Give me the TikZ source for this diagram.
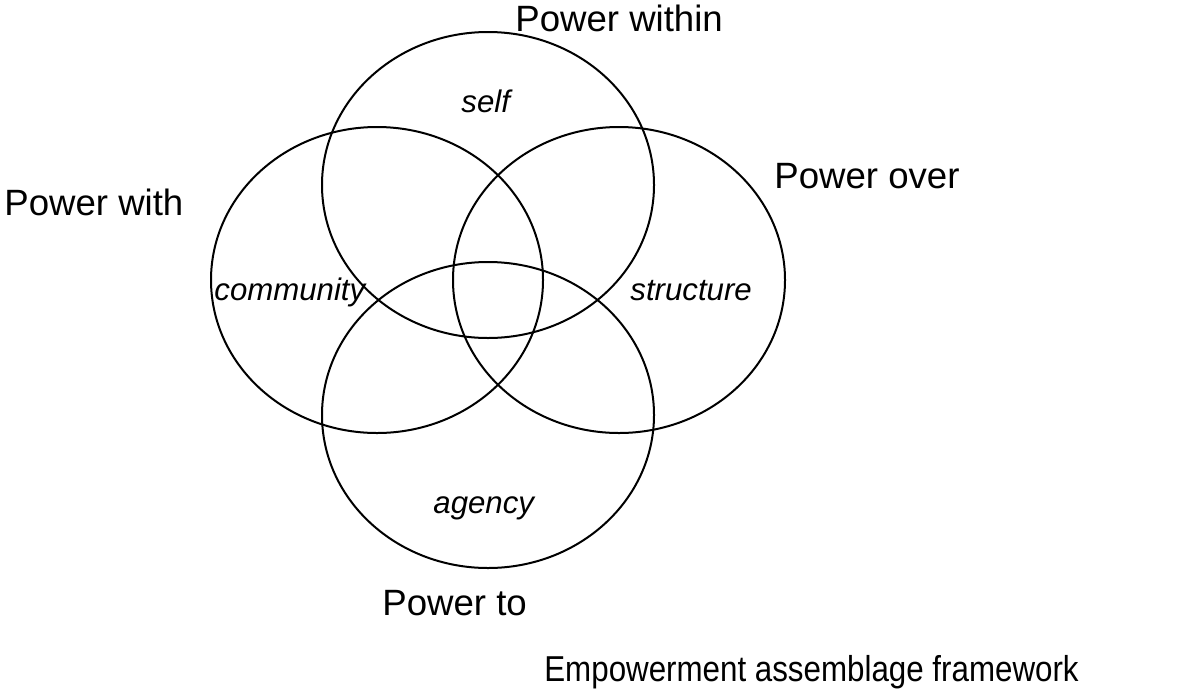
\documentclass[tikz,border=0pt]{standalone}
\usepackage{fontspec}
\setmainfont{Liberation Sans}
\usetikzlibrary{shapes,positioning}
\tikzset{
ring/.style={draw,ellipse,line width=1pt,minimum width=166pt,minimum height=153pt,inner sep=0pt},
pow/.style={anchor=base west,inner sep=0pt,font=\fontsize{18.3pt}{22pt}\selectfont},
dom/.style={anchor=base west,inner sep=0pt,font=\fontsize{15.6pt}{19pt}\selectfont\itshape},
}

\begin{document}
\begin{tikzpicture}[x=0.5pt,y=-0.5pt]
  \useasboundingbox (0,0) rectangle (1182,691);
  % the four overlapping domains
  \draw foreach \n/\x/\y in {within/488/185,with/377/280,over/619/280,to/488/415}
  { (\x,\y) node[ring] (c\n) {} };
  \draw (461,112) node[dom] (self) {self} (214,300) node[dom] (comm) {community}
  (630,300) node[dom] (struc) {structure} (433,513) node[dom] (agen) {agency};
  \draw (515,31) node[pow] (pwithin) {Power within} (774,188) node[pow] (pover) {Power over}
  (4,215) node[pow] (pwith) {Power with} (382,615) node[pow] (pto) {Power to};
  \draw (544,681) node[pow,font=\fontsize{18pt}{22pt}\selectfont,xscale=0.87,transform shape] (title) {Empowerment assemblage framework};
\end{tikzpicture}
\end{document}
